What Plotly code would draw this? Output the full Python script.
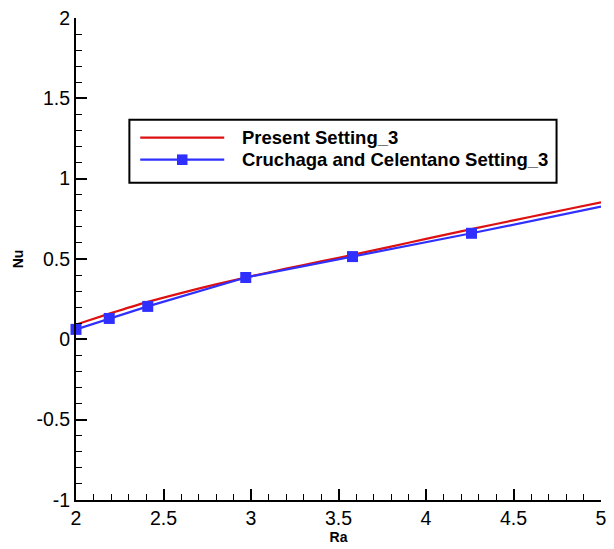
import plotly.graph_objects as go

# Present Setting_3 (red curve)
ra_present = [2.0, 2.2, 2.4, 2.6, 2.8, 3.0, 3.2, 3.4, 3.6, 3.8, 4.0, 4.2, 4.4, 4.6, 4.8, 5.0]
nu_present = [0.092, 0.163, 0.23, 0.288, 0.342, 0.392, 0.44, 0.485, 0.53, 0.577, 0.625, 0.672, 0.718, 0.763, 0.808, 0.852]

# Cruchaga and Celentano Setting_3 (blue curve with square symbols)
ra_ref = [2.0, 2.19, 2.41, 2.97, 3.58, 4.26, 5.0]
nu_ref = [0.062, 0.13, 0.205, 0.385, 0.515, 0.66, 0.826]
ref_symbol_size = [11, 11, 11, 11, 11, 11, 0]

# Axis tick labels (plain hyphen for negatives)
y_ticks = [-1, -0.5, 0, 0.5, 1, 1.5, 2]
y_ticktext = ["-1", "-0.5", "0", "0.5", "1", "1.5", "2"]
x_ticks = [2, 2.5, 3, 3.5, 4, 4.5, 5]
x_ticktext = ["2", "2.5", "3", "3.5", "4", "4.5", "5"]

series_names = ["Present Setting_3", "Cruchaga and Celentano Setting_3"]
red = "#dd1111"
blue = "#2f2fff"
font_family = "Liberation Sans, Arial, sans-serif"

fig = go.Figure()
fig.add_trace(go.Scatter(
    x=ra_present, y=nu_present, mode="lines", name=series_names[0],
    line=dict(color=red, width=2.2, shape="spline", smoothing=0.6),
    showlegend=False, cliponaxis=False,
))
fig.add_trace(go.Scatter(
    x=ra_ref, y=nu_ref, mode="lines+markers", name=series_names[1],
    line=dict(color=blue, width=2.2),
    marker=dict(symbol="square", size=ref_symbol_size, color=blue, opacity=1,
                line=dict(width=0, color=blue)),
    showlegend=False, cliponaxis=False,
))

# Boxed legend drawn in data coordinates
box = dict(x0=2.305, x1=4.746, y0=0.975, y1=1.366)
rows_y = [1.255, 1.118]
sample_x = (2.367, 2.847)
fig.add_shape(type="rect", xref="x", yref="y", **box,
              line=dict(color="black", width=2), fillcolor="white", layer="above")
fig.add_shape(type="line", xref="x", yref="y", x0=sample_x[0], x1=sample_x[1],
              y0=rows_y[0], y1=rows_y[0], line=dict(color=red, width=2.2), layer="above")
fig.add_shape(type="line", xref="x", yref="y", x0=sample_x[0], x1=sample_x[1],
              y0=rows_y[1], y1=rows_y[1], line=dict(color=blue, width=2.2), layer="above")
mx = (sample_x[0] + sample_x[1]) / 2
fig.add_shape(type="rect", xref="x", yref="y", x0=mx - 0.03, x1=mx + 0.03,
              y0=rows_y[1] - 0.033, y1=rows_y[1] + 0.033,
              line=dict(color=blue, width=0), fillcolor=blue, layer="above")
for name, yy in zip(series_names, rows_y):
    fig.add_annotation(x=2.938, y=yy, xref="x", yref="y", text=name, showarrow=False,
                       xanchor="left", yanchor="middle",
                       font=dict(family=font_family, size=18.5, color="black", weight="bold"))

axis_common = dict(
    showline=True, linecolor="black", linewidth=2, mirror=False,
    ticks="inside", ticklen=11, tickwidth=2, tickcolor="black",
    showgrid=False, zeroline=False,
    tickfont=dict(family=font_family, size=19.5, color="black"),
    minor=dict(ticks="inside", ticklen=6, tickwidth=1, tickcolor="black", dtick=0.1, showgrid=False),
)

fig.update_layout(
    width=614, height=549,
    margin=dict(l=76, r=7, t=17, b=49),
    paper_bgcolor="white", plot_bgcolor="white",
    xaxis=dict(range=[2, 5], tickmode="array", tickvals=x_ticks, ticktext=x_ticktext,
               title=dict(text="Ra", standoff=3,
                          font=dict(family=font_family, size=14, color="black", weight="bold")),
               **axis_common),
    yaxis=dict(range=[-1, 2], tickmode="array", tickvals=y_ticks, ticktext=y_ticktext,
               title=dict(text="Nu", standoff=10,
                          font=dict(family=font_family, size=14, color="black", weight="bold")),
               **axis_common),
)

fig.write_html("out.html")
